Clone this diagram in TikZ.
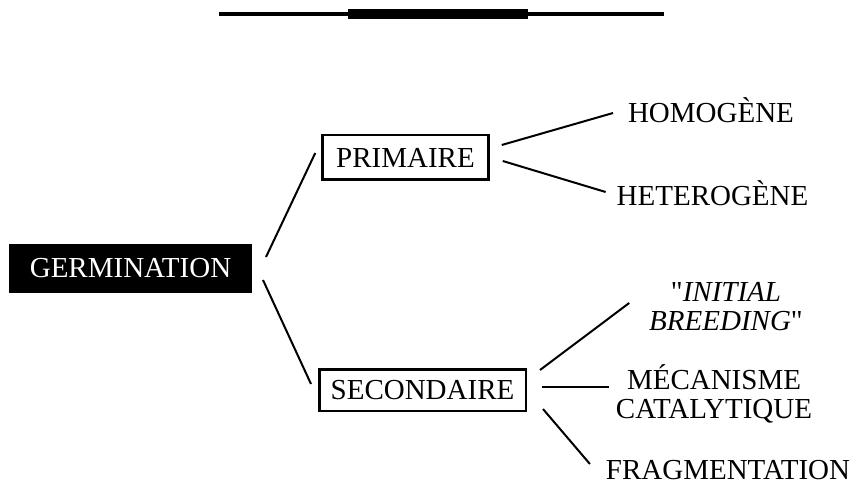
\documentclass[tikz,border=0pt]{standalone}
\usepackage{fontspec}
\setmainfont{Liberation Serif}
\usetikzlibrary{calc}
\tikzstyle{gfont}=[font=\fontsize{29}{29}\selectfont]
\tikzstyle{obox}=[rectangle,draw=black,line width=2.5pt,inner sep=0pt,gfont]
\tikzstyle{gbox}=[rectangle,fill=black,text=white,inner sep=0pt,minimum width=243pt,minimum height=49pt,gfont]
\tikzstyle{olabel}=[inner sep=0pt,align=center,gfont]
\tikzstyle{dlink}=[-, line width=2pt]

\begin{document}
\begin{tikzpicture}[x=1pt,y=1pt,dlink]
\useasboundingbox (0,0) rectangle (861,-489);
\draw[line width=3.5pt](219,-14)--(664,-14);
\draw[line width=10pt](348,-14)--(528,-14);
\node[gbox] (G) at (130.5,-268.5) {GERMINATION};
\node[obox,minimum width=166pt,minimum height=44.5pt] (P) at (405.5,-157.5) {PRIMAIRE};
\node[obox,minimum width=206.5pt,minimum height=41.5pt] (S) at (422.5,-390) {SECONDAIRE};
\node[olabel,anchor=base] (Ho) at (711,-123) {HOMOGÈNE};
\node[olabel,anchor=base] (He) at (712.5,-205) {HETEROGÈNE};
\node[olabel,anchor=base] (IB) at (726,-330) {\textquotedbl\textit{INITIAL}\\\textit{BREEDING}\textquotedbl};
\node[olabel,anchor=base] (MC) at (714,-418) {MÉCANISME\\CATALYTIQUE};
\node[olabel,anchor=base] (F) at (728,-479) {FRAGMENTATION};
\draw($(G.east)+(13,11.5)$)--($(P.west)+(-6,4.5)$);
\draw($(G.east)+(10,-11.5)$)--($(S.west)+(-7,6)$);
\draw($(P.east)+(12,12.5)$)--($(Ho.base west)+(-14,10)$);
\draw($(P.east)+(13,-3.5)$)--($(He.base west)+(-10,13)$);
\draw($(S.east)+(13,20)$)--($(IB.base west)+(-19,27)$);
\draw($(S.east)+(15,3)$)--($(MC.base west)+(-6,31)$);
\draw($(S.east)+(16,-19)$)--($(F.base west)+(-15,15)$);
\end{tikzpicture}
\end{document}
